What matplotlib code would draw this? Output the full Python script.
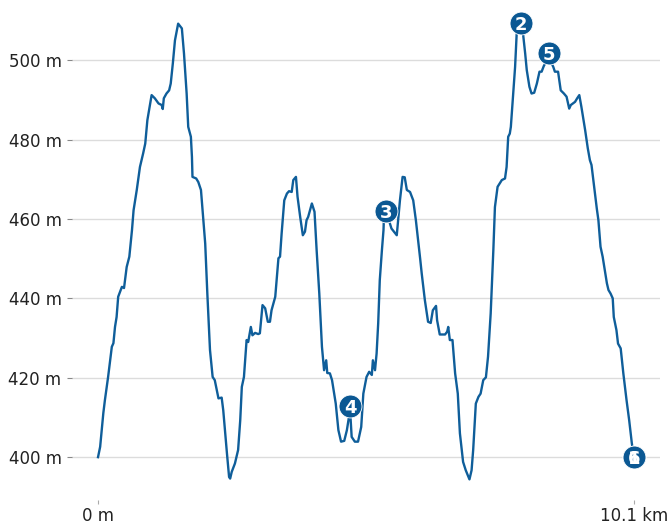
import matplotlib
matplotlib.use("Agg")
from matplotlib import pyplot as plt

# elevation profile (distance in km, elevation in m)
dist_km = [0.00, 0.04, 0.10, 0.13, 0.19, 0.26, 0.29, 0.32, 0.35, 0.38,
           0.45, 0.49, 0.54, 0.59, 0.64, 0.67, 0.73, 0.79, 0.85, 0.89,
           0.93, 1.01, 1.07, 1.14, 1.20, 1.22, 1.24, 1.29, 1.34, 1.37,
           1.41, 1.45, 1.51, 1.58, 1.62, 1.67, 1.70, 1.75, 1.77, 1.78,
           1.85, 1.89, 1.94, 1.97, 2.02, 2.06, 2.11, 2.16, 2.20, 2.27,
           2.33, 2.36, 2.43, 2.47, 2.49, 2.52, 2.58, 2.64, 2.68, 2.71,
           2.75, 2.80, 2.83, 2.88, 2.91, 2.96, 3.02, 3.05, 3.10, 3.15,
           3.20, 3.24, 3.27, 3.34, 3.37, 3.40, 3.43, 3.46, 3.51, 3.56,
           3.60, 3.65, 3.68, 3.73, 3.76, 3.81, 3.86, 3.90, 3.93, 3.96,
           4.03, 4.08, 4.12, 4.17, 4.22, 4.26, 4.30, 4.32, 4.37, 4.41,
           4.48, 4.53, 4.58, 4.64, 4.69, 4.75, 4.78, 4.84, 4.90, 4.96,
           5.00, 5.06, 5.11, 5.16, 5.18, 5.22, 5.25, 5.28, 5.31, 5.35,
           5.38, 5.39, 5.45, 5.50, 5.53, 5.63, 5.69, 5.74, 5.78, 5.82,
           5.88, 5.94, 5.99, 6.04, 6.07, 6.10, 6.16, 6.22, 6.27, 6.31,
           6.37, 6.39, 6.44, 6.54, 6.58, 6.60, 6.63, 6.68, 6.73, 6.78,
           6.82, 6.88, 6.93, 7.00, 7.04, 7.07, 7.12, 7.17, 7.21, 7.26,
           7.31, 7.35, 7.40, 7.45, 7.48, 7.53, 7.61, 7.67, 7.70, 7.73,
           7.76, 7.78, 7.83, 7.86, 7.89, 7.93, 7.99, 8.01, 8.05, 8.08,
           8.13, 8.17, 8.22, 8.27, 8.32, 8.36, 8.40, 8.46, 8.52, 8.58,
           8.61, 8.67, 8.72, 8.78, 8.83, 8.88, 8.91, 8.99, 9.03, 9.07,
           9.11, 9.18, 9.23, 9.27, 9.30, 9.35, 9.40, 9.43, 9.47, 9.51,
           9.55, 9.59, 9.62, 9.66, 9.70, 9.72, 9.77, 9.80, 9.85, 9.90,
           9.96, 10.01, 10.06, 10.10]
elev_m = [400.0, 402.6, 411.1, 414.4, 420.2, 427.8, 428.7, 432.8, 435.3, 440.4,
          442.9, 442.6, 447.9, 450.5, 457.2, 462.2, 467.3, 473.1, 476.5, 479.0,
          484.9, 491.2, 490.4, 489.1, 488.7, 487.7, 490.4, 491.6, 492.4, 494.1,
          499.2, 505.0, 509.2, 508.0, 501.7, 491.6, 483.2, 480.7, 475.6, 470.6,
          470.2, 469.3, 467.3, 462.2, 453.8, 441.2, 427.0, 420.2, 419.4, 414.8,
          415.0, 411.8, 400.9, 395.0, 394.6, 396.3, 398.4, 401.8, 409.3, 417.7,
          420.2, 429.5, 429.0, 432.8, 430.7, 431.3, 431.0, 431.2, 438.3, 437.5,
          434.1, 434.1, 437.0, 440.4, 445.4, 450.1, 450.5, 456.3, 464.7, 466.4,
          467.0, 466.8, 469.8, 470.6, 465.6, 460.5, 455.9, 456.8, 459.7, 460.5,
          463.9, 461.8, 452.1, 441.2, 427.8, 421.9, 424.4, 421.2, 421.1, 419.4,
          413.5, 406.8, 403.9, 404.1, 406.8, 411.9, 405.1, 403.9, 403.9, 407.6,
          416.0, 420.2, 421.5, 420.7, 424.4, 421.9, 426.1, 433.7, 444.6, 452.1,
          457.2, 461.0, 462.2, 458.9, 457.6, 455.9, 464.7, 470.6, 470.5, 467.3,
          466.8, 464.7, 459.7, 453.8, 450.1, 446.3, 439.5, 434.1, 433.8, 437.0,
          438.1, 434.5, 430.9, 430.9, 431.6, 432.8, 429.5, 429.5, 421.1, 416.0,
          406.0, 398.8, 396.7, 394.4, 396.7, 401.8, 413.5, 415.2, 416.0, 419.4,
          420.1, 425.3, 436.2, 452.1, 463.0, 468.1, 469.8, 470.2, 473.1, 480.7,
          481.5, 483.2, 492.4, 498.3, 506.7, 509.1, 509.1, 506.7, 501.7, 497.5,
          493.3, 491.6, 491.8, 494.1, 497.1, 497.1, 498.5, 500.0, 500.0, 498.3,
          497.1, 497.1, 492.4, 491.6, 490.8, 487.8, 488.7, 489.5, 490.4, 491.2,
          488.2, 482.4, 477.8, 474.8, 473.6, 468.1, 462.6, 459.7, 453.0, 450.5,
          447.1, 443.8, 442.1, 441.2, 440.0, 435.3, 432.0, 428.6, 427.4, 421.1,
          414.4, 409.3, 403.5, 400.0]

# numbered waypoints (1 and 6 share the finish point)
marker_labels = ["1", "2", "3", "4", "5", "6"]
marker_km = [10.1, 7.97, 5.42, 4.75, 8.49, 10.1]
marker_m = [400.0, 509.3, 462.0, 412.8, 501.7, 400.0]

y_ticks = [400, 420, 440, 460, 480, 500]
x_ticks = [0, 10.1]
x_tick_labels = ["0 m", "10.1 km"]

line_color = "#0f5e9a"
marker_color = "#0b5893"

fig = plt.figure(figsize=(6.7, 5.26), dpi=100)
ax = fig.add_axes([0.1075, 0.0494, 0.8775, 0.9411])

ax.plot(dist_km, elev_m, color=line_color, linewidth=1.7, zorder=3)

for lab, xk, ym in zip(marker_labels, marker_km, marker_m):
    ax.plot(xk, ym, "o", markersize=16.5, color=marker_color,
            markeredgecolor="white", markeredgewidth=0.6, zorder=4)
    ax.text(xk, ym, lab, color="white", fontsize=13, fontweight="bold",
            ha="center", va="center_baseline", zorder=5)

ax.set_xlim(-0.49, 10.59)
ax.set_ylim(389.2, 513.9)

ax.set_yticks(y_ticks)
ax.set_yticklabels([f"{v} m" for v in y_ticks])
ax.set_xticks(x_ticks)
ax.set_xticklabels(x_tick_labels)

for s in ax.spines.values():
    s.set_visible(False)
ax.grid(axis="y", color="#dcdcdc", linewidth=1)
ax.set_axisbelow(True)
ax.tick_params(axis="y", length=3.5, color="#888888", labelsize=12,
               labelcolor="#222222", pad=4)
ax.tick_params(axis="x", length=3, color="#aaaaaa", labelsize=12,
               labelcolor="#222222", pad=2)

fig.savefig("out.png", dpi=100)
